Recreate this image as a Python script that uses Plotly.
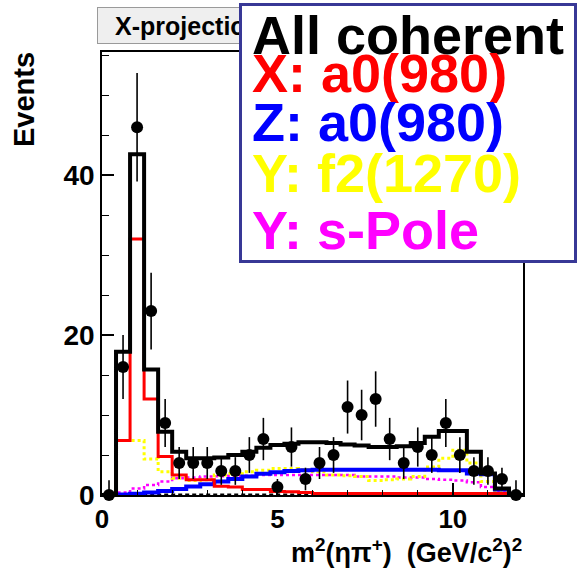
import plotly.graph_objects as go

# m^2(eta pi+) binning: 30 bins of 0.4 (GeV/c^2)^2 from 0 to 12
bin_width = 0.4
bin_centers = [0.2, 0.6, 1.0, 1.4, 1.8, 2.2, 2.6, 3.0, 3.4, 3.8,
               4.2, 4.6, 5.0, 5.4, 5.8, 6.2, 6.6, 7.0, 7.4, 7.8,
               8.2, 8.6, 9.0, 9.4, 9.8, 10.2, 10.6, 11.0, 11.4, 11.8]

# observed events per bin
data_counts = [0, 16, 46, 23, 9, 4, 4, 4, 3, 3,
               5, 7, 1, 6, 2, 4, 5, 11, 10, 12,
               7, 4, 6, 5, 9, 5, 3, 3, 2, 0]
empty_bin_upper_error = 1.85

# fit projections per wave
all_coherent = [0, 17.9, 42.6, 15.7, 7.9, 5.4, 4.6, 4.6, 4.7, 5.0,
                5.4, 5.9, 6.25, 6.4, 6.6, 6.6, 6.5, 6.3, 6.2, 6.0,
                6.0, 6.1, 6.5, 7.3, 8.0, 8.0, 5.4, 2.7, 0.8, 0]
x_a0 = [0, 6.8, 32.0, 12.0, 4.8, 2.5, 1.9, 1.9, 1.1, 1.0,
        0.7, 0.7, 0.45, 0.4, 0.3, 0.2, 0.2, 0.2, 0.2, 0.2,
        0.2, 0.2, 0.2, 0.2, 0.2, 0.2, 0.2, 0.2, 0.2, 0]
z_a0 = [0, 0.05, 0.15, 0.3, 0.5, 0.75, 1.05, 1.35, 1.7, 2.0,
        2.3, 2.65, 2.85, 3.0, 3.1, 3.15, 3.15, 3.15, 3.15, 3.15,
        3.15, 3.15, 3.15, 3.15, 3.1, 3.1, 2.7, 2.6, 0.7, 0]
y_f2 = [0, 6.8, 6.8, 4.5, 2.9, 2.1, 1.8, 1.9, 2.5, 2.7,
        2.9, 3.1, 3.3, 3.3, 3.2, 2.9, 2.5, 2.4, 2.3, 1.8,
        1.9, 2.0, 2.3, 3.5, 4.6, 5.6, 4.0, 1.7, 0.4, 0]
y_spole = [0, 0.3, 0.8, 1.25, 1.7, 2.1, 2.2, 2.3, 2.35, 2.4,
           2.4, 2.5, 2.5, 2.5, 2.5, 2.5, 2.5, 2.5, 2.3, 2.3,
           2.3, 2.2, 2.2, 2.0, 1.9, 1.8, 1.6, 1.0, 0.4, 0]
other_waves = [0, 0.1, 0.1, 0.1, 0.1, 0.1, 0.1, 0.1, 0.1, 0.1,
               0.1, 0.1, 0.1, 0.1, 0.1, 0.1, 0.1, 0.1, 0.1, 0.1,
               0.1, 0.1, 0.1, 0.1, 0.1, 0.1, 0.1, 0.1, 0.1, 0]

legend_entries = [
    ("All coherent", "#000000"),
    ("X: a0(980)", "#ff0000"),
    ("Z: a0(980)", "#0000ff"),
    ("Y: f2(1270)", "#ffff00"),
    ("Y: s-Pole", "#ff00ff"),
]

FONT = "Liberation Sans, Arial, sans-serif"

# figure geometry (pixels)
W, H = 578, 572
ML, MR, MT, MB = 102, 55, 52, 77
PW, PH = W - ML - MR, H - MT - MB


def paper_x(px):
    return (px - ML) / PW


def paper_y(py):
    return (H - MB - py) / PH


def step_outline(values):
    lo = [c - bin_width / 2 for c in bin_centers]
    xs = lo + [bin_centers[-1] + bin_width / 2]
    ys = list(values) + [values[-1]]
    return xs, ys


fig = go.Figure()

hist_styles = [
    (other_waves, "#000000", 1.5, "4px,3px"),
    (y_spole, "#ff00ff", 2.5, "dot"),
    (y_f2, "#ffff00", 3, "dot"),
    (z_a0, "#0000ff", 4, "solid"),
    (x_a0, "#ff0000", 3, "solid"),
    (all_coherent, "#000000", 4, "solid"),
]
for vals, col, lw, dash in hist_styles:
    xs, ys = step_outline(vals)
    fig.add_trace(go.Scatter(
        x=xs, y=ys, mode="lines", line_shape="hv",
        line=dict(color=col, width=lw, dash=dash),
        showlegend=False, hoverinfo="skip",
    ))

err_up = [c ** 0.5 if c > 0 else empty_bin_upper_error for c in data_counts]
err_dn = [c ** 0.5 for c in data_counts]
fig.add_trace(go.Scatter(
    x=bin_centers, y=data_counts, mode="markers",
    marker=dict(color="black", size=12),
    error_y=dict(type="data", symmetric=False, array=err_up, arrayminus=err_dn,
                 color="black", thickness=1.6, width=0),
    cliponaxis=False, showlegend=False,
))

annotations = []

# histogram title pave
annotations.append(dict(
    xref="paper", yref="paper", x=paper_x(97), y=paper_y(7),
    xanchor="left", yanchor="top", text="X-projection",
    width=180, height=35, align="center", valign="middle",
    bgcolor="#efefef", bordercolor="#9a9a9a", borderwidth=1, borderpad=0,
    font=dict(family=FONT, size=25, color="black", weight="bold"),
    showarrow=False,
))

# legend pave
annotations.append(dict(
    xref="paper", yref="paper", x=paper_x(239), y=paper_y(3),
    xanchor="left", yanchor="top", text=" ",
    width=332, height=254, bgcolor="white",
    bordercolor="#383896", borderwidth=3, borderpad=0,
    showarrow=False,
))

legend_centers = [35, 73, 122, 173, 230]
for (label, col), cy in zip(legend_entries, legend_centers):
    annotations.append(dict(
        xref="paper", yref="paper", x=paper_x(250), y=paper_y(cy),
        xanchor="left", yanchor="middle", text=label,
        font=dict(family=FONT, size=54, color=col, weight="bold"),
        showarrow=False,
    ))

# axis titles
annotations.append(dict(
    xref="paper", yref="paper", x=paper_x(24), y=paper_y(100),
    xanchor="center", yanchor="middle", text="Events", textangle=-90,
    font=dict(family=FONT, size=29, color="black", weight="bold"),
    showarrow=False,
))
annotations.append(dict(
    xref="paper", yref="paper", x=paper_x(524), y=paper_y(551),
    xanchor="right", yanchor="middle",
    text="m<sup>2</sup>(ηπ<sup>+</sup>)  (GeV/c<sup>2</sup>)<sup>2</sup>",
    font=dict(family=FONT, size=27, color="black", weight="bold"),
    showarrow=False,
))

axis_common = dict(
    showline=True, linecolor="black", linewidth=1.5, mirror=True,
    ticks="inside", ticklen=12, tickwidth=1.5, tickcolor="black",
    showgrid=False, zeroline=False,
)

fig.update_layout(
    width=W, height=H, autosize=False,
    margin=dict(l=ML, r=MR, t=MT, b=MB),
    paper_bgcolor="white", plot_bgcolor="white",
    xaxis=dict(range=[0, 12], tickvals=[0, 5, 10],
               minor=dict(ticks="inside", ticklen=5, dtick=1, tickcolor="black", tickwidth=1.2),
               tickfont=dict(family=FONT, size=26, color="black", weight="bold"),
               **axis_common),
    yaxis=dict(range=[0, 55.4], tickvals=[0, 20, 40],
               minor=dict(ticks="inside", ticklen=7, dtick=5, tickcolor="black", tickwidth=1.2),
               tickfont=dict(family=FONT, size=28, color="black", weight="bold"),
               **axis_common),
    annotations=annotations,
)

fig.write_html("out.html")
